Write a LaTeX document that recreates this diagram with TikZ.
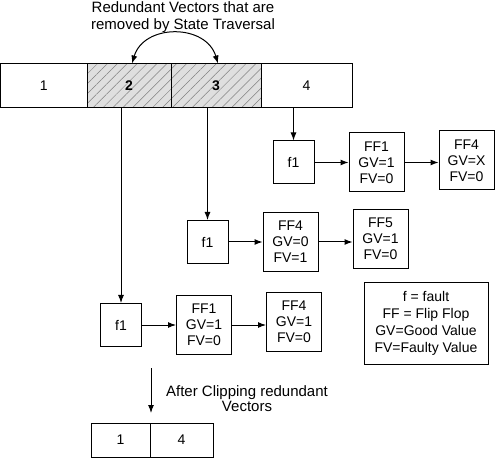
\documentclass[tikz,border=0pt]{standalone}
\usepackage{fontspec}
\setmainfont{Liberation Sans}
\usetikzlibrary{arrows.meta,positioning,patterns.meta}

\begin{document}
\begin{tikzpicture}[
  x=1pt,y=-1pt,
  node distance=34pt and 34pt,
  cell/.style={draw,line width=1pt,outer sep=0pt,inner sep=0pt,minimum height=44pt,font=\fontsize{14}{16}\selectfont},
  hatched/.style={cell,preaction={fill=gray!25},pattern={Lines[angle=45,distance=7pt,line width=0.5pt]},pattern color=gray,font=\fontsize{14}{16}\selectfont\bfseries},
  fbox/.style={draw,line width=1pt,inner sep=0pt,minimum width=41pt,minimum height=43pt,font=\fontsize{14}{16}\selectfont},
  ffbox/.style={draw,line width=1pt,align=center,inner sep=0pt,minimum width=55pt,minimum height=59pt,font=\fontsize{14}{16}\selectfont},
  arrow/.style={-{Latex[length=8pt,width=6pt]},line width=1pt}
]
\useasboundingbox (0,0) rectangle (496,468);
% vector list before clipping
\node[cell,minimum width=86.5pt] (c1) at (43.75,85.5) {1};
\node[hatched,minimum width=84pt,right=0pt of c1] (c2) {2};
\node[hatched,minimum width=90pt,right=0pt of c2] (c3) {3};
\node[cell,minimum width=91pt,right=0pt of c3] (c4) {4};
\node[align=center,font=\fontsize{15}{17}\selectfont] (note) at (183,17) {Redundant Vectors that are\\removed by State Traversal};
\draw[{Latex[length=8pt,width=6pt]}-{Latex[length=8pt,width=6pt]},line width=1pt]
  ([xshift=3pt]c2.north) .. controls +(12,-40) and +(-12,-40) .. ([xshift=2pt]c3.north);
% fault lists
\node[fbox] (fa) at (293.5,162.5) {f1};
\node[ffbox,right=of fa] (fa1) {FF1\\GV=1\\FV=0};
\node[ffbox,right=of fa1,yshift=2pt] (fa2) {FF4\\GV=X\\FV=0};
\node[fbox] (fb) at (207.5,242) {f1};
\node[ffbox,right=of fb] (fb1) {FF4\\GV=0\\FV=1};
\node[ffbox,right=of fb1,yshift=3pt] (fb2) {FF5\\GV=1\\FV=0};
\node[fbox] (fc) at (121,325) {f1};
\node[ffbox,right=of fc] (fc1) {FF1\\GV=1\\FV=0};
\node[ffbox,right=of fc1,yshift=3pt] (fc2) {FF4\\GV=1\\FV=0};
\draw[arrow] (c4.south -| fa.north) -- (fa.north);
\draw[arrow] (c3.south -| fb.north) -- (fb.north);
\draw[arrow] (c2.south -| fc.north) -- (fc.north);
\draw[arrow] (fa)--(fa1);
\draw[arrow] (fa1.east)--(fa1.east -| fa2.west);
\draw[arrow] (fb)--(fb1);
\draw[arrow] (fb1.east)--(fb1.east -| fb2.west);
\draw[arrow] (fc)--(fc1);
\draw[arrow] (fc1.east)--(fc1.east -| fc2.west);
% legend
\node[draw,line width=1pt,align=center,minimum width=124pt,minimum height=81pt,font=\fontsize{14}{17}\selectfont] (key) at (426,323.5) {f = fault\\FF = Flip Flop\\GV=Good Value\\FV=Faulty Value};
% after clipping
\coordinate (cliptop) at (151,368);
\coordinate (clipend) at (151,413);
\draw[arrow] (cliptop) -- (clipend);
\node[align=center,font=\fontsize{15}{15}\selectfont] (cliptext) at (247,399) {After Clipping redundant\\Vectors};
\node[cell,minimum width=59pt,minimum height=34pt] (d1) at (120.5,440) {1};
\node[cell,minimum width=63pt,minimum height=34pt,right=0pt of d1] (d4) {4};
\end{tikzpicture}
\end{document}
